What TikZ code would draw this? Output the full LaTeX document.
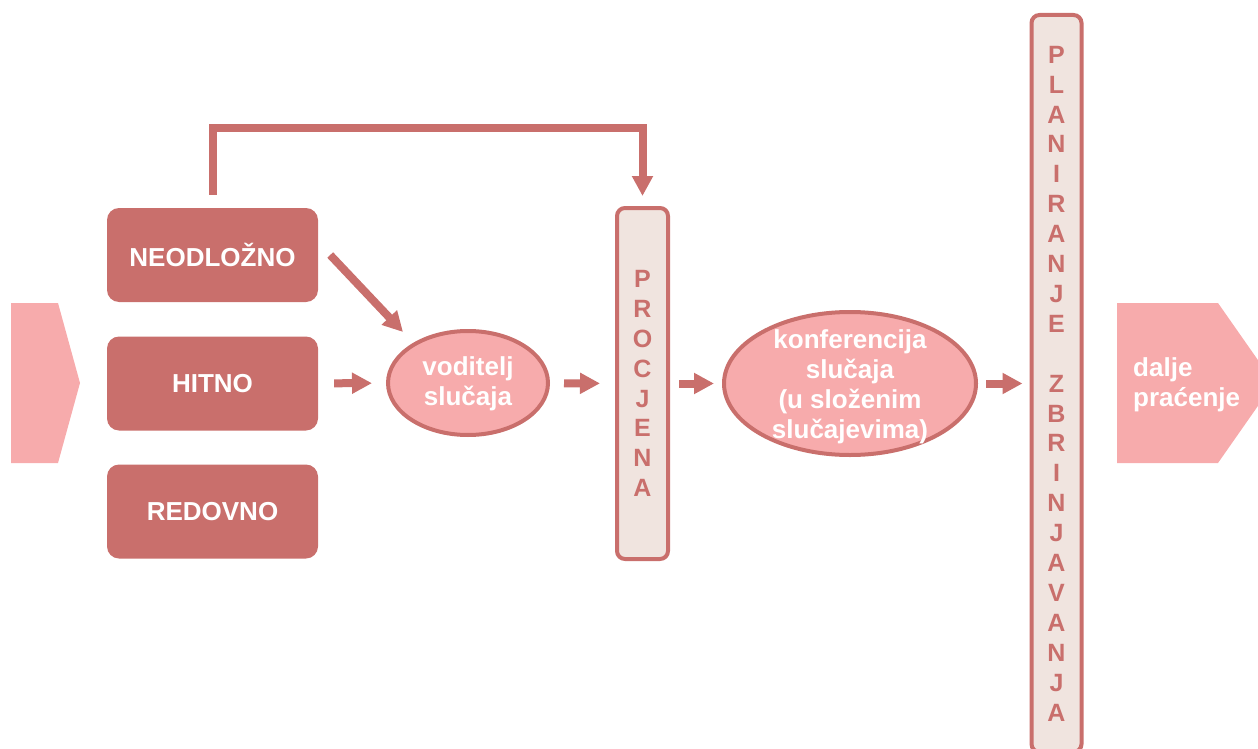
\documentclass[tikz,border=0pt]{standalone}
\usepackage{fontspec}
\setmainfont{Liberation Sans}
\usetikzlibrary{arrows.meta,calc,shapes.geometric}
\definecolor{dark}{RGB}{201,111,108}
\definecolor{light}{RGB}{247,171,172}
\definecolor{barfill}{RGB}{240,228,223}
\tikzset{
  cat/.style={fill=dark, rounded corners=12pt, minimum width=211pt, minimum height=94pt, inner sep=0pt,
    text=white, font=\fontsize{26}{30}\selectfont\bfseries},
  oval/.style={ellipse, draw=dark, line width=4pt, fill=light, inner sep=0pt,
    text=white, align=center, font=\fontsize{26}{30}\selectfont\bfseries},
  ovaltext/.style={text=white, align=center, inner sep=0pt, font=\fontsize{26}{30}\selectfont\bfseries},
  bar/.style={draw=dark, line width=4pt, fill=barfill, rounded corners=8pt, inner sep=0pt, minimum width=51pt},
  barletters/.style={text=dark, align=center, inner sep=0pt, font=\fontsize{25}{29.9}\selectfont\bfseries},
  arr/.style={draw=dark, line width=8pt, -{Triangle[length=20pt,width=20pt]}},
}
\begin{document}
\begin{tikzpicture}[x=1pt,y=-1pt]
\useasboundingbox (0,0) rectangle (1258,749);
% left chevron
\fill[light] (11,303) -- (58,303) -- (80,383) -- (58,463) -- (11,463) -- cycle;
% right chevron
\fill[light] (1117,303) -- (1218,303) -- (1274,383) -- (1218,463) -- (1117,463) -- cycle;
\node[anchor=west, text=white, align=left, inner sep=0pt, font=\fontsize{26}{30}\selectfont\bfseries] (dalje) at (1133,385) {dalje\\pra\'cenje};
% category boxes
\node[cat] (neod) at (212.5,255) {NEODLOŽNO};
\node[cat] (hitno) at (212.5,383.5) {HITNO};
\node[cat] (redo) at (212.5,511.5) {REDOVNO};
% ovals
\node[oval, minimum width=160pt, minimum height=104pt] (vod) at (468,383) {};
\node[ovaltext] (vodtext) at ($(vod.center)+(0,1)$) {voditelj\\slučaja};
\node[oval, minimum width=252pt, minimum height=143pt] (konf) at (850,383.5) {};
\node[ovaltext] (konftext) at ($(konf.center)+(0,3)$) {konferencija\\slučaja\\(u složenim\\slučajevima)};
% bars
\node[bar, minimum height=351pt] (proc) at (642.5,383.5) {};
\node[barletters] (proctext) at (proc.center) {P\\R\\O\\C\\J\\E\\N\\A};
\node[bar, minimum height=737pt, minimum width=50pt] (plan) at (1056.5,383.5) {};
\node[barletters] (plantext) at (plan.center) {P\\L\\A\\N\\I\\R\\A\\N\\J\\E\\\mbox{}\\Z\\B\\R\\I\\N\\J\\A\\V\\A\\N\\J\\A};
% connectors
\draw[arr] ($(neod.north)+(0,-13)$) -- ++(0,-67) -| ($(proc.north)+(0,-10)$);
\draw[arr] ($(neod.east)+(12,0)$) -- ($(vod.center)+(-65,-51)$);
\draw[arr, shorten <=16pt, shorten >=14pt] (hitno) -- (vod);
\draw[arr, shorten <=14pt, shorten >=15pt] (vod) -- (proc);
\draw[arr, shorten <=9pt, shorten >=8pt] (proc) -- (konf);
\draw[arr, shorten <=8pt, shorten >=7pt] (konf) -- (plan);
\end{tikzpicture}
\end{document}
